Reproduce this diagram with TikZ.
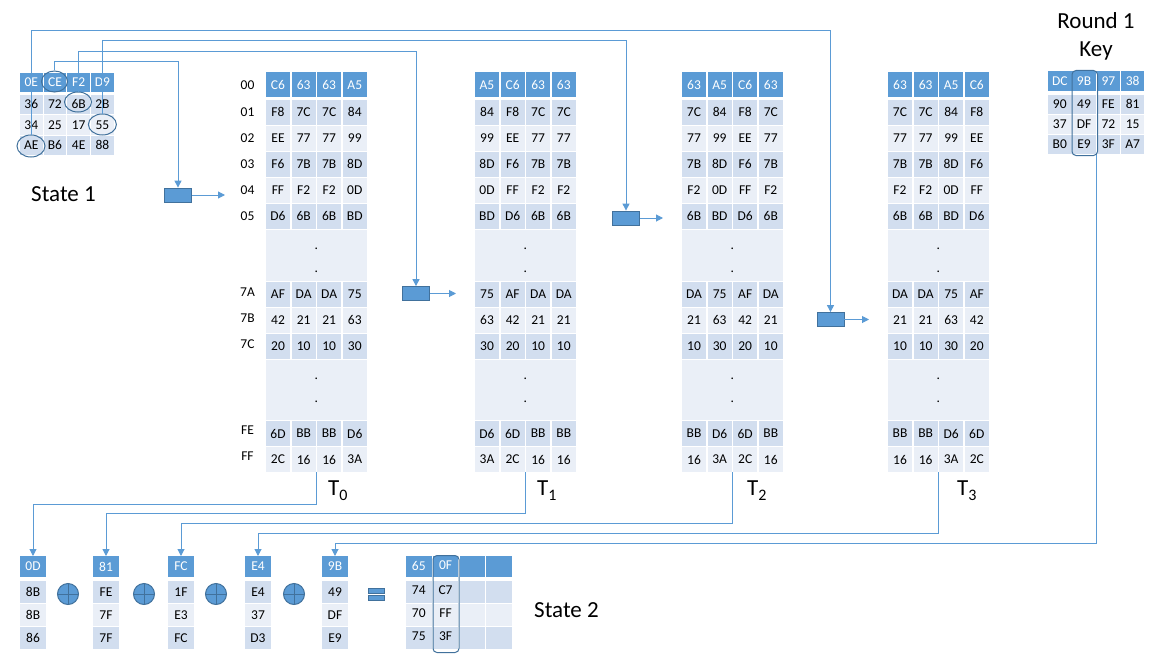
\documentclass[tikz,border=0pt]{standalone}
\usepackage{fontspec}
\setmainfont{Carlito}
\usetikzlibrary{arrows.meta,shapes.geometric}
\definecolor{hdr}{HTML}{5B9BD5}
\definecolor{bandA}{HTML}{D2DEEF}
\definecolor{bandB}{HTML}{EAEFF7}
\definecolor{edgec}{HTML}{41719C}
\definecolor{lnc}{HTML}{5B9BD5}
\newcommand\cellfont{\fontsize{13.5}{15}\selectfont}
\newcommand\bigfont{\fontsize{23}{27}\selectfont}
\newcommand\subfont{\fontsize{16}{18}\selectfont}
\tikzset{
  cell/.style={rectangle, inner sep=0pt, outer sep=0pt, anchor=north west, font=\cellfont, text=black},
  hc/.style={cell, fill=hdr, text=white},
  ac/.style={cell, fill=bandA},
  bc/.style={cell, fill=bandB},
  lab/.style={font=\cellfont, text=black, inner sep=0pt},
  dotlab/.style={font=\cellfont, text=black, inner sep=0pt},
  ttl/.style={font=\bigfont, text=black, inner sep=0pt, anchor=base},
  ring/.style={ellipse, draw=edgec, line width=1pt, inner sep=0pt},
  frame/.style={rectangle, draw=edgec, line width=1pt, rounded corners=4pt, anchor=north west, inner sep=0pt},
  proc/.style={rectangle, fill=hdr, draw=edgec, line width=0.8pt, minimum width=27pt, minimum height=14pt, inner sep=0pt},
  conn/.style={draw=lnc, line width=1pt, -{Triangle[length=7pt,width=7pt]}},
  xorc/.style={circle, fill=hdr, draw=edgec, line width=1pt, minimum size=21pt, inner sep=0pt,
    path picture={\draw[edgec, line width=1pt] (path picture bounding box.north) -- (path picture bounding box.south)
      (path picture bounding box.west) -- (path picture bounding box.east);}},
  eqbar/.style={rectangle, fill=hdr, draw=edgec, line width=0.6pt, minimum width=16pt, minimum height=5pt, inner sep=0pt},
}
% one row of a T table: rowname, ytop, height, style, a, b, c, d
\newcommand\trow[8]{%
  \foreach \v [count=\k from 0] in {#5,#6,#7,#8}{
    \node[#4, minimum width=24pt, minimum height=#3pt] (\tp-#1-\k) at (\tx+\k*25.6, #2) {\v};
  }%
}
% generic matrix row: name, x0, pitch, width, ytop, height, style, list
\newcommand\mrow[8]{%
  \foreach \v [count=\k from 0] in {#8}{
    \node[#7, minimum width=#4pt, minimum height=#6pt] (#1-\k) at (#2+\k*#3, #5) {\v};
  }%
}
% bottom column: name, x0, a, b, c, d
\newcommand\bcol[6]{%
  \node[hc, minimum width=26pt, minimum height=21pt] (#1-0) at (#2,556) {#3};
  \node[ac, minimum width=26pt, minimum height=22pt] (#1-1) at (#2,581) {#4};
  \node[bc, minimum width=26pt, minimum height=22pt] (#1-2) at (#2,604) {#5};
  \node[ac, minimum width=26pt, minimum height=22pt] (#1-3) at (#2,627) {#6};
}
% dotted block: name suffix, ytop, height, dot1 y, dot2 y
\newcommand\tdots[5]{%
  \node[bc, minimum width=100.8pt, minimum height=#3pt] (\tp-#1) at (\tx, #2) {};
  \node[dotlab] (\tp-#1a) at (\tx+50.4, #4) {.};
  \node[dotlab] (\tp-#1b) at (\tx+50.4, #5) {.};
}
\begin{document}
\begin{tikzpicture}[x=1pt,y=-1pt]
\useasboundingbox (0,0) rectangle (1159,661);

% ---------- State 1 ----------
\mrow{s1r0}{20}{23.7}{22.5}{73}{18.5}{hc}{0E,CE,F2,D9}
\mrow{s1r1}{20}{23.7}{22.5}{94.5}{19.5}{ac}{36,72,6B,2B}
\mrow{s1r2}{20}{23.7}{22.5}{115}{19.5}{bc}{34,25,17,55}
\mrow{s1r3}{20}{23.7}{22.5}{135.5}{19.5}{ac}{AE,B6,4E,88}
\node[ttl] (st1) at (63.5,201) {State 1};

% ---------- Round 1 key ----------
\node[ttl] (rk1) at (1096,28.5) {Round 1};
\node[ttl] (rk2) at (1096,57) {Key};
\mrow{kr0}{1048}{24.3}{23.5}{71}{20}{hc}{DC,9B,97,38}
\mrow{kr1}{1048}{24.3}{23.5}{94.5}{19}{ac}{90,49,FE,81}
\mrow{kr2}{1048}{24.3}{23.5}{114.5}{19}{bc}{37,DF,72,15}
\mrow{kr3}{1048}{24.3}{23.5}{134.5}{19}{ac}{B0,E9,3F,A7}
\node[frame, minimum width=25.5pt, minimum height=85pt] (kframe) at (1071.5,70) {};

% ---------- T0 ----------
\def\tx{266}\def\tp{t0}
\trow{00}{72.5}{24.5}{hc}{C6}{63}{63}{A5}
\trow{01}{99.5}{25}{ac}{F8}{7C}{7C}{84}
\trow{02}{125.5}{25}{bc}{EE}{77}{77}{99}
\trow{03}{151.5}{25}{ac}{F6}{7B}{7B}{8D}
\trow{04}{177.5}{25}{bc}{FF}{F2}{F2}{0D}
\trow{05}{203.5}{25}{ac}{D6}{6B}{6B}{BD}
\tdots{da}{229.5}{51}{249}{272}
\trow{7A}{281.5}{25}{ac}{AF}{DA}{DA}{75}
\trow{7B}{307.5}{25}{bc}{42}{21}{21}{63}
\trow{7C}{333.5}{25}{ac}{20}{10}{10}{30}
\tdots{db}{359.5}{60.5}{379}{402}
\trow{FE}{421}{25}{ac}{6D}{BB}{BB}{D6}
\trow{FF}{447}{25}{bc}{2C}{16}{16}{3A}
\coordinate (t0b) at (316.5,472);

% ---------- T1 ----------
\def\tx{475}\def\tp{t1}
\trow{00}{72.5}{24.5}{hc}{A5}{C6}{63}{63}
\trow{01}{99.5}{25}{ac}{84}{F8}{7C}{7C}
\trow{02}{125.5}{25}{bc}{99}{EE}{77}{77}
\trow{03}{151.5}{25}{ac}{8D}{F6}{7B}{7B}
\trow{04}{177.5}{25}{bc}{0D}{FF}{F2}{F2}
\trow{05}{203.5}{25}{ac}{BD}{D6}{6B}{6B}
\tdots{da}{229.5}{51}{249}{272}
\trow{7A}{281.5}{25}{ac}{75}{AF}{DA}{DA}
\trow{7B}{307.5}{25}{bc}{63}{42}{21}{21}
\trow{7C}{333.5}{25}{ac}{30}{20}{10}{10}
\tdots{db}{359.5}{60.5}{379}{402}
\trow{FE}{421}{25}{ac}{D6}{6D}{BB}{BB}
\trow{FF}{447}{25}{bc}{3A}{2C}{16}{16}
\coordinate (t1b) at (525.5,472);

% ---------- T2 ----------
\def\tx{682}\def\tp{t2}
\trow{00}{72.5}{24.5}{hc}{63}{A5}{C6}{63}
\trow{01}{99.5}{25}{ac}{7C}{84}{F8}{7C}
\trow{02}{125.5}{25}{bc}{77}{99}{EE}{77}
\trow{03}{151.5}{25}{ac}{7B}{8D}{F6}{7B}
\trow{04}{177.5}{25}{bc}{F2}{0D}{FF}{F2}
\trow{05}{203.5}{25}{ac}{6B}{BD}{D6}{6B}
\tdots{da}{229.5}{51}{249}{272}
\trow{7A}{281.5}{25}{ac}{DA}{75}{AF}{DA}
\trow{7B}{307.5}{25}{bc}{21}{63}{42}{21}
\trow{7C}{333.5}{25}{ac}{10}{30}{20}{10}
\tdots{db}{359.5}{60.5}{379}{402}
\trow{FE}{421}{25}{ac}{BB}{D6}{6D}{BB}
\trow{FF}{447}{25}{bc}{16}{3A}{2C}{16}
\coordinate (t2b) at (732.5,472);

% ---------- T3 ----------
\def\tx{888}\def\tp{t3}
\trow{00}{72.5}{24.5}{hc}{63}{63}{A5}{C6}
\trow{01}{99.5}{25}{ac}{7C}{7C}{84}{F8}
\trow{02}{125.5}{25}{bc}{77}{77}{99}{EE}
\trow{03}{151.5}{25}{ac}{7B}{7B}{8D}{F6}
\trow{04}{177.5}{25}{bc}{F2}{F2}{0D}{FF}
\trow{05}{203.5}{25}{ac}{6B}{6B}{BD}{D6}
\tdots{da}{229.5}{51}{249}{272}
\trow{7A}{281.5}{25}{ac}{DA}{DA}{75}{AF}
\trow{7B}{307.5}{25}{bc}{21}{21}{63}{42}
\trow{7C}{333.5}{25}{ac}{10}{10}{30}{20}
\tdots{db}{359.5}{60.5}{379}{402}
\trow{FE}{421}{25}{ac}{BB}{BB}{D6}{6D}
\trow{FF}{447}{25}{bc}{16}{16}{3A}{2C}
\coordinate (t3b) at (938.5,472);

% ---------- index labels ----------
\node[lab] (l00) at (247.5,85) {00};
\node[lab] (l01) at (247.5,112) {01};
\node[lab] (l02) at (247.5,138) {02};
\node[lab] (l03) at (247.5,164) {03};
\node[lab] (l04) at (247.5,190) {04};
\node[lab] (l05) at (247.5,216) {05};
\node[lab] (l7A) at (247.5,292.5) {7A};
\node[lab] (l7B) at (247.5,318.5) {7B};
\node[lab] (l7C) at (247.5,344.5) {7C};
\node[lab] (lFE) at (247.5,430.5) {FE};
\node[lab] (lFF) at (247.5,456.5) {FF};

% ---------- T labels ----------
\node[font=\bigfont, anchor=base west, inner sep=0pt] (T0) at (328,495) {T\raisebox{-5pt}{\subfont 0}};
\node[font=\bigfont, anchor=base west, inner sep=0pt] (T1) at (537,495) {T\raisebox{-5pt}{\subfont 1}};
\node[font=\bigfont, anchor=base west, inner sep=0pt] (T2) at (747,495) {T\raisebox{-5pt}{\subfont 2}};
\node[font=\bigfont, anchor=base west, inner sep=0pt] (T3) at (957,495) {T\raisebox{-5pt}{\subfont 3}};

% ---------- processing boxes ----------
\node[proc] (b0) at (178,195) {};
\node[proc] (b1) at (416,293.5) {};
\node[proc] (b2) at (626,218) {};
\node[proc] (b3) at (830.5,319.5) {};
\coordinate (o0) at (225,195);
\coordinate (o1) at (456,293.5);
\coordinate (o2) at (663,218);
\coordinate (o3) at (869,319.5);
\draw[conn] (b0.east) -- (o0);
\draw[conn] (b1.east) -- (o1);
\draw[conn] (b2.east) -- (o2);
\draw[conn] (b3.east) -- (o3);

% ---------- ellipses on state 1 ----------
\node[ring, minimum width=26pt, minimum height=21pt] (eCE) at (54.5,81.5) {};
\node[ring, minimum width=27pt, minimum height=20pt] (e6B) at (78,102) {};
\node[ring, minimum width=28pt, minimum height=21pt] (e55) at (102.4,124.5) {};
\node[ring, minimum width=28pt, minimum height=22pt] (eAE) at (31,146) {};

% ---------- top connectors ----------
\coordinate (lvA) at (0,30.5);
\coordinate (lvB) at (0,41);
\coordinate (lvC) at (0,51.5);
\coordinate (lvD) at (0,62);
\draw[conn] (eAE.north) -- (eAE.north |- lvA) -| (b3.north);
\draw[conn] (e55.north) -- (e55.north |- lvB) -| (b2.north);
\draw[conn] (e6B.north) -- (e6B.north |- lvC) -| (b1.north);
\draw[conn] (eCE.north) -- (eCE.north |- lvD) -| (b0.north);

% ---------- bottom columns ----------
\bcol{c1}{20}{0D}{8B}{8B}{86}
\bcol{c2}{93}{81}{FE}{7F}{7F}
\bcol{c3}{168}{FC}{1F}{E3}{FC}
\bcol{c4}{245}{E4}{E4}{37}{D3}
\bcol{c5}{322}{9B}{49}{DF}{E9}
\node[xorc] (x1) at (68,594) {};
\node[xorc] (x2) at (144,594) {};
\node[xorc] (x3) at (216,594) {};
\node[xorc] (x4) at (294,594) {};
\node[eqbar] (eq1) at (376,590.5) {};
\node[eqbar] (eq2) at (376,597.5) {};

% ---------- State 2 ----------
\mrow{s2r0}{406}{26.8}{25.5}{556}{21}{hc}{\raisebox{2pt}{65},\raisebox{2pt}{0F},{},{}}
\mrow{s2r1}{406}{26.8}{25.5}{581}{22}{ac}{\raisebox{3pt}{74},\raisebox{3pt}{C7},{},{}}
\mrow{s2r2}{406}{26.8}{25.5}{604}{22}{bc}{\raisebox{3pt}{70},\raisebox{3pt}{FF},{},{}}
\mrow{s2r3}{406}{26.8}{25.5}{627}{22}{ac}{\raisebox{3pt}{75},\raisebox{3pt}{3F},{},{}}
\node[frame, minimum width=26pt, minimum height=97pt] (s2frame) at (432.5,555) {};
\node[ttl] (st2) at (566.5,617.5) {State 2};

% ---------- bottom connectors ----------
\coordinate (kout) at (1096.5,155);
\coordinate (lv1) at (0,504);
\coordinate (lv2) at (0,513.5);
\coordinate (lv3) at (0,523);
\coordinate (lv4) at (0,533);
\coordinate (lv5) at (0,543);
\draw[conn] (t0b) -- (t0b |- lv1) -| (c1-0.north);
\draw[conn] (t1b) -- (t1b |- lv2) -| (c2-0.north);
\draw[conn] (t2b) -- (t2b |- lv3) -| (c3-0.north);
\draw[conn] (t3b) -- (t3b |- lv4) -| (c4-0.north);
\draw[conn] (kout) -- (kout |- lv5) -| (c5-0.north);
\end{tikzpicture}
\end{document}
